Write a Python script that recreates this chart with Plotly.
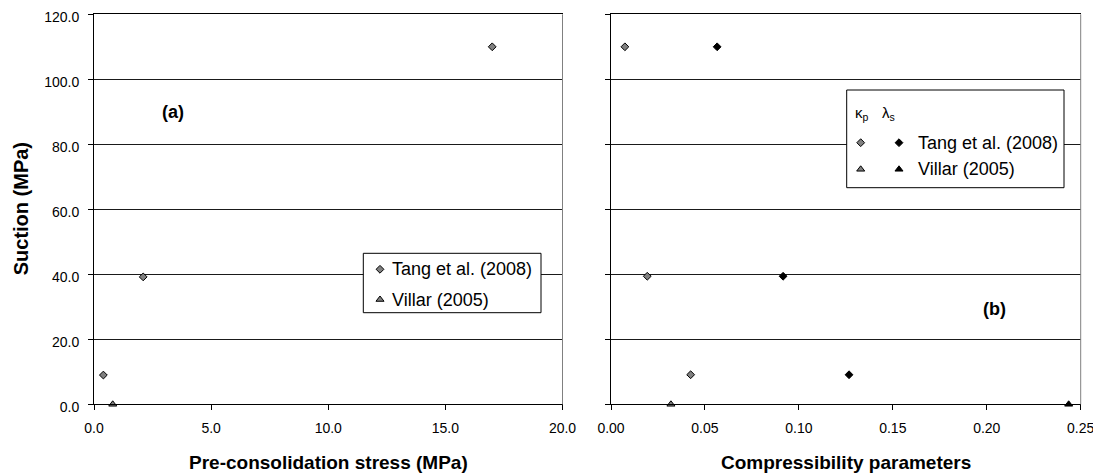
import plotly.graph_objects as go

# ---------------- data ----------------
# Panel (a): suction vs pre-consolidation stress
tang_a_stress = [0.4, 2.1, 17.0]
tang_a_suction = [9.0, 39.2, 110.0]
villar_a_stress = [0.8]
villar_a_suction = [0.0]

# Panel (b): suction vs compressibility parameters
tang_kp = [0.0074, 0.0193, 0.0424]
tang_ls = [0.0565, 0.0916, 0.1267]
tang_b_suction = [110.0, 39.4, 9.1]
villar_kp = [0.0319]
villar_ls = [0.2436]
villar_b_suction = [0.0]

y_ticks = [0, 20, 40, 60, 80, 100, 120]
xa_ticks = [0, 5, 10, 15, 20]
xb_ticks = [0, 0.05, 0.10, 0.15, 0.20, 0.25]

W, H = 1101, 476
OFF = 8  # page body margin: figure origin sits at (8, 8) in the window
FONT = "Liberation Sans, Arial, sans-serif"
GRAY = "#808080"

# plot-area pixel boxes (window coordinates)
A_L, A_R = 94, 562.5
B_L, B_R = 611, 1080.7
P_T, P_B = 14.3, 404.3


def px(x):
    return (x - OFF) / W


def py(y):
    return 1 - (y - OFF) / H


fig = go.Figure()

mk_line = dict(color="#000000", width=1)

fig.add_trace(go.Scatter(x=tang_a_stress, y=tang_a_suction, mode="markers",
                         marker=dict(symbol="diamond", size=6, color=GRAY, line=mk_line),
                         xaxis="x", yaxis="y", showlegend=False))
fig.add_trace(go.Scatter(x=villar_a_stress, y=villar_a_suction, mode="markers",
                         marker=dict(symbol="triangle-up", size=7, color=GRAY, line=mk_line),
                         xaxis="x", yaxis="y", showlegend=False, cliponaxis=False))
fig.add_trace(go.Scatter(x=tang_kp, y=tang_b_suction, mode="markers",
                         marker=dict(symbol="diamond", size=6, color=GRAY, line=mk_line),
                         xaxis="x2", yaxis="y2", showlegend=False))
fig.add_trace(go.Scatter(x=tang_ls, y=tang_b_suction, mode="markers",
                         marker=dict(symbol="diamond", size=6, color="#000000", line=mk_line),
                         xaxis="x2", yaxis="y2", showlegend=False))
fig.add_trace(go.Scatter(x=villar_kp, y=villar_b_suction, mode="markers",
                         marker=dict(symbol="triangle-up", size=7, color=GRAY, line=mk_line),
                         xaxis="x2", yaxis="y2", showlegend=False, cliponaxis=False))
fig.add_trace(go.Scatter(x=villar_ls, y=villar_b_suction, mode="markers",
                         marker=dict(symbol="triangle-up", size=7, color="#000000", line=mk_line),
                         xaxis="x2", yaxis="y2", showlegend=False, cliponaxis=False))

# ---------------- hand-built legends (pixel overlay axes) ----------------
legend_a = dict(box=(363.3, 253.3, 541, 312.7),
                rows=[(269.3, "diamond", [GRAY], "Tang et al. (2008)"),
                      (299.5, "triangle-up", [GRAY], "Villar (2005)")],
                sym_x=[380], text_x=390)
legend_b = dict(box=(846.7, 90, 1064, 187.7),
                rows=[(142.7, "diamond", [GRAY, "#000000"], "Tang et al. (2008)"),
                      (169.3, "triangle-up", [GRAY, "#000000"], "Villar (2005)")],
                sym_x=[860.7, 899], text_x=916)

shapes = []
annotations = []
for lg in (legend_a, legend_b):
    x0, y0, x1, y1 = lg["box"]
    shapes.append(dict(type="rect", xref="x3", yref="y3", x0=x0, y0=y0, x1=x1, y1=y1,
                       line=dict(color="#000000", width=1), fillcolor="#ffffff",
                       layer="between"))
    for (yy, sym, cols, label) in lg["rows"]:
        for sx, c in zip(lg["sym_x"], cols):
            fig.add_trace(go.Scatter(x=[sx], y=[yy], mode="markers", xaxis="x3", yaxis="y3",
                                     marker=dict(symbol=sym, size=6 if sym == "diamond" else 7,
                                                 color=c, line=mk_line),
                                     showlegend=False, hoverinfo="skip", cliponaxis=False))
        annotations.append(dict(xref="x3", yref="y3", x=lg["text_x"], y=yy, text=label,
                                showarrow=False, xanchor="left", yanchor="middle",
                                font=dict(family=FONT, size=18, color="#000000")))

annotations.append(dict(xref="x3", yref="y3", x=853, y=113.5,
                        text="\u03ba<sub>p</sub>", showarrow=False, xanchor="left",
                        yanchor="middle", font=dict(family=FONT, size=15, color="#000000")))
annotations.append(dict(xref="x3", yref="y3", x=880, y=113.5,
                        text="\u03bb<sub>s</sub>", showarrow=False, xanchor="left",
                        yanchor="middle", font=dict(family=FONT, size=15, color="#000000")))

# panel labels
annotations.append(dict(xref="x3", yref="y3", x=172.5, y=111.5, text="<b>(a)</b>",
                        showarrow=False, font=dict(family=FONT, size=18, color="#000000")))
annotations.append(dict(xref="x3", yref="y3", x=994, y=309, text="<b>(b)</b>",
                        showarrow=False, font=dict(family=FONT, size=18, color="#000000")))

# axis titles
annotations.append(dict(xref="x3", yref="y3", x=(A_L + A_R) / 2, y=462,
                        text="<b>Pre-consolidation stress (MPa)</b>", showarrow=False,
                        font=dict(family=FONT, size=19, color="#000000")))
annotations.append(dict(xref="x3", yref="y3", x=(B_L + B_R) / 2, y=462,
                        text="<b>Compressibility parameters</b>", showarrow=False,
                        font=dict(family=FONT, size=19, color="#000000")))
annotations.append(dict(xref="x3", yref="y3", x=21, y=(P_T + P_B) / 2,
                        text="<b>Suction (MPa)</b>", showarrow=False, textangle=-90,
                        font=dict(family=FONT, size=20, color="#000000")))

# right-side plot-area borders (gray)
for r in (A_R, B_R):
    shapes.append(dict(type="line", xref="x3", yref="y3", x0=r, x1=r, y0=P_T, y1=P_B,
                       line=dict(color=GRAY, width=1), layer="below"))

tickfont = dict(family=FONT, size=14, color="#000000")
common_x = dict(showline=True, linecolor="#000000", linewidth=1, mirror=True,
                ticks="outside", ticklen=5, tickcolor="#000000", showgrid=False,
                zeroline=False, tickfont=tickfont, ticklabelstandoff=6, automargin=False,
                ticklabeloverflow="allow")
common_y = dict(showline=True, linecolor="#000000", linewidth=1,
                ticks="outside", ticklen=5, tickcolor="#000000", showgrid=True,
                gridcolor="#1a1a1a", gridwidth=1, zeroline=False, tickfont=tickfont,
                range=[0, 120], tickvals=y_ticks, domain=[py(P_B), py(P_T)], automargin=False,
                ticklabeloverflow="allow")

fig.update_layout(
    template="none",
    width=W, height=H,
    margin=dict(l=0, r=0, t=0, b=0, pad=0),
    paper_bgcolor="#ffffff", plot_bgcolor="rgba(0,0,0,0)",
    showlegend=False,
    font=dict(family=FONT, color="#000000"),
    xaxis=dict(common_x, domain=[px(A_L), px(A_R)], range=[0, 20], tickvals=xa_ticks,
               tickformat=".1f", anchor="y"),
    yaxis=dict(common_y, anchor="x", tickformat=".1f", ticklabelstandoff=6,
               ticklabelshift=3),
    xaxis2=dict(common_x, domain=[px(B_L), px(B_R)], range=[0, 0.25], tickvals=xb_ticks,
                tickformat=".2f", anchor="y2"),
    yaxis2=dict(common_y, anchor="x2", showticklabels=False),
    xaxis3=dict(domain=[0, 1], range=[OFF, OFF + W], visible=False, anchor="y3",
                fixedrange=True, automargin=False),
    yaxis3=dict(domain=[0, 1], range=[OFF + H, OFF], visible=False, anchor="x3",
                fixedrange=True, automargin=False),
    shapes=shapes,
    annotations=annotations,
)

fig.write_html("out.html")
